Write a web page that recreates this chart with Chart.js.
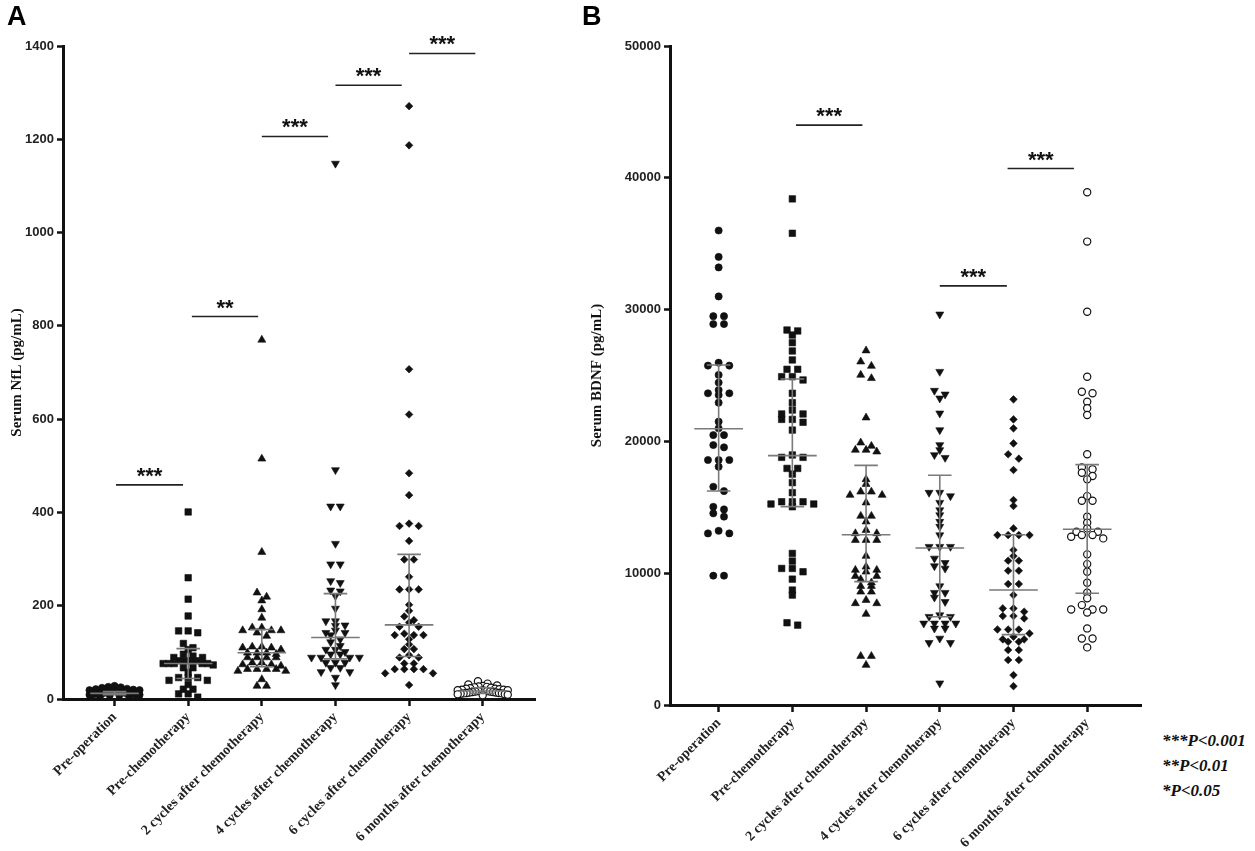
<!DOCTYPE html>
<html>
<head>
<meta charset="utf-8">
<script src="https://cdn.jsdelivr.net/npm/chart.js@4.4.0/dist/chart.umd.min.js"></script>
<style>
    html, body { margin: 0; padding: 0; background: #fff; }
    body { width: 1255px; height: 851px; position: relative; overflow: hidden; }
    .panel { position: absolute; top: 0; height: 851px; }
    #wrapA { left: 0; width: 560px; }
    #wrapB { left: 580px; width: 580px; }
    .letter { position: absolute; top: 1px; font: bold 27px "Liberation Sans", Arial, sans-serif; color: #000; }
    #pnote { position: absolute; left: 1162px; top: 728px; font: italic bold 17px "Liberation Serif", serif; line-height: 25px; color: #111; }
</style>
</head>
<body>
<div class="panel" id="wrapA"><canvas id="nflChart"></canvas></div>
<div class="panel" id="wrapB"><canvas id="bdnfChart"></canvas></div>
<div class="letter" style="left:7px">A</div>
<div class="letter" style="left:582px">B</div>
<div id="pnote">***P&lt;0.001<br>**P&lt;0.01<br>*P&lt;0.05</div>
<script>
const groupLabels = ["Pre-operation", "Pre-chemotherapy", "2 cycles after chemotherapy",
    "4 cycles after chemotherapy", "6 cycles after chemotherapy", "6 months after chemotherapy"];

// Panel A - serum NfL (pg/mL)
const nflPreOperation = [28, 26, 25, 24, 22, 21, 20, 19, 19, 18, 17, 17, 16, 16, 15, 15, 14, 14, 13, 13,
    13, 12, 12, 12, 11, 11, 11, 10, 10, 10, 9, 9, 8, 8, 7, 7, 6, 5];
const nflPreChemo = [401, 260, 214, 178, 146, 146, 142, 119, 110, 106, 96, 92, 89, 89, 82, 82, 82, 82, 76, 76,
    76, 76, 76, 73, 67, 67, 57, 46, 46, 46, 40, 40, 31, 21, 21, 11, 11, 4];
const nfl2Cycles = [770, 515, 315, 228, 219, 211, 192, 174, 153, 153, 147, 147, 147, 142, 135, 112, 112, 110, 110, 106,
    99, 99, 99, 96, 89, 89, 89, 89, 78, 78, 74, 74, 71, 64, 64, 64, 64, 60, 60, 42, 28, 28];
const nfl4Cycles = [1148, 491, 413, 413, 333, 289, 289, 253, 249, 233, 231, 221, 194, 167, 167, 158, 157, 147, 142, 142,
    137, 128, 122, 114, 106, 106, 101, 96, 96, 89, 89, 89, 89, 78, 78, 78, 67, 67, 58, 58, 46, 30];
const nfl6Cycles = [1271, 1187, 707, 610, 484, 437, 376, 371, 371, 339, 299, 299, 262, 235, 235, 235, 202, 189, 177, 169,
    164, 155, 155, 140, 137, 137, 137, 128, 117, 107, 107, 94, 89, 89, 76, 76, 64, 64, 64, 64, 55, 55, 30];
const nfl6Months = [38, 33, 31, 29, 28, 27, 26, 25, 24, 23, 22, 22, 21, 20, 20, 19, 19, 18, 18, 17,
    17, 16, 16, 15, 15, 14, 14, 13, 13, 12, 12, 11, 10, 10, 9, 8];
const nflMedian = [12, 76, 99, 132, 159, 17];
const nflQ1 = [9, 44, 69, 86, 91, 12];
const nflQ3 = [16, 108, 149, 226, 310, 24];
const nflSigFrom = [0.02, 1.05, 2.0, 3.0, 4.0];
const nflSigTo = [0.93, 1.95, 2.9, 3.9, 4.9];
const nflSigY = [459, 820, 1206, 1316, 1384];
const nflSigText = ["***", "**", "***", "***", "***"];

// Panel B - serum BDNF (pg/mL)
const bdnfPreOperation = [36000, 34000, 33200, 31000, 29500, 29500, 28900, 28900, 25970, 25750, 25750, 25040, 24460,
    23900, 23650, 23650, 23520, 22940, 21500, 20990, 20480, 20480, 19720, 19550, 18590, 18590, 18590, 18080, 16560,
    16230, 15040, 14840, 14540, 14290, 13220, 13020, 13020, 9810, 9810];
const bdnfPreChemo = [38400, 35790, 28450, 28380, 28070, 27490, 26860, 26180, 25470, 25470, 24910, 24910, 24660, 23650,
    22940, 22380, 22080, 22080, 21670, 21670, 21450, 20860, 18970, 18790, 18790, 17950, 17950, 17520, 16870, 16110,
    15420, 15420, 15420, 15250, 15250, 15040, 11500, 10920, 10360, 10360, 10110, 9550, 8720, 8340, 6240, 6060];
const bdnf2Cycles = [26890, 26050, 25720, 25040, 24790, 21800, 19900, 19650, 19350, 19350, 19220, 17120, 16760, 16180,
    16180, 15930, 15930, 15350, 14340, 14340, 13910, 13270, 13020, 13020, 12510, 12510, 12510, 11300, 10490, 10240,
    10240, 10110, 9780, 9780, 9530, 9280, 9020, 9020, 8590, 8590, 7960, 7710, 7710, 6900, 3710, 3710, 3030];
const bdnf4Cycles = [29640, 25290, 23850, 23570, 23270, 22130, 20860, 19730, 19350, 18970, 18760, 16110, 16110, 15850,
    15350, 14790, 14410, 13910, 13530, 12890, 12010, 12010, 12010, 11120, 10790, 10540, 10360, 9020, 8520, 8520, 8160,
    7830, 6820, 6700, 6700, 6190, 6190, 6190, 6190, 5810, 5810, 5050, 4720, 4720, 1650];
const bdnf6Cycles = [23190, 21670, 20990, 19850, 19020, 18690, 17830, 15550, 15100, 13400, 12890, 12890, 12890, 12890,
    11760, 11300, 10950, 10950, 10190, 10190, 9180, 9180, 8340, 7330, 7330, 7080, 6750, 6750, 6570, 5730, 5730, 5730,
    5430, 5180, 4980, 4980, 4800, 4800, 4170, 4170, 3410, 3410, 2270, 1430];
const bdnf6Months = [38900, 35160, 29840, 24910, 23770, 23650, 23010, 22510, 22000, 19020, 18030, 17880, 17620, 17370,
    17120, 15850, 15500, 15500, 14290, 13830, 13400, 13150, 13150, 12890, 12890, 12770, 12640, 11430, 10690, 10110,
    9280, 8520, 8090, 7580, 7250, 7250, 7250, 7020, 5810, 5050, 5050, 4370];
const bdnfMedian = [20960, 18920, 12920, 11910, 8730, 13330];
const bdnfQ1 = [16240, 15050, 9360, 6700, 5340, 8480];
const bdnfQ3 = [25800, 24730, 18180, 17430, 12920, 18240];
const bdnfSigFrom = [1.05, 3.0, 3.92];
const bdnfSigTo = [1.95, 3.91, 4.82];
const bdnfSigY = [44000, 31800, 40700];
const bdnfSigText = ["***", "***", "***"];

// marker look per group
const markerStyle = ["circle", "rect", "triangle", "triangle", "rectRot", "circle"];
const markerRotation = [0, 0, 0, 180, 0, 0];
const markerRadius = [3.6, 4.6, 4.6, 4.6, 3.8, 3.6];

// spread points of one group sideways, row by row (layout only, values untouched)
function swarm(values, index, tol, step, maxHalf) {
    const sorted = values.slice().sort((a, b) => b - a);
    const rows = [];
    sorted.forEach(v => {
        const row = rows[rows.length - 1];
        if (row && row[0] - v <= tol) row.push(v);
        else rows.push([v]);
    });
    const points = [];
    rows.forEach(row => {
        const k = row.length;
        let s = step;
        if (k > 1 && (k - 1) * s / 2 > maxHalf) s = 2 * maxHalf / (k - 1);
        // largest in the middle, then alternate left/right
        const slots = [];
        for (let j = 0; j < k; j++) slots.push(j - (k - 1) / 2);
        slots.sort((a, b) => Math.abs(a) - Math.abs(b) || a - b);
        row.forEach((v, j) => points.push({ x: index + slots[j] * s, y: v }));
    });
    return points;
}

function buildDatasets(groups, tol, step, maxHalf) {
    return groups.map((values, i) => ({
        data: swarm(values, i, tol, step, maxHalf),
        pointStyle: markerStyle[i],
        pointRotation: markerRotation[i],
        pointRadius: markerRadius[i],
        pointBackgroundColor: i === 5 ? "#ffffff" : "#111111",
        pointBorderColor: "#111111",
        pointBorderWidth: i === 5 ? 1.2 : 0.6,
        showLine: false
    }));
}

const errorBarPlugin = {
    id: "errorBars",
    afterDatasetsDraw(chart, args, opts) {
        const ctx = chart.ctx;
        const xs = chart.scales.x;
        const ys = chart.scales.y;
        ctx.save();
        ctx.strokeStyle = "#7a7a7a";
        ctx.lineWidth = 1.6;
        opts.median.forEach((m, i) => {
            ctx.beginPath();
            ctx.moveTo(xs.getPixelForValue(i - 0.33), ys.getPixelForValue(m));
            ctx.lineTo(xs.getPixelForValue(i + 0.33), ys.getPixelForValue(m));
            ctx.moveTo(xs.getPixelForValue(i), ys.getPixelForValue(opts.q1[i]));
            ctx.lineTo(xs.getPixelForValue(i), ys.getPixelForValue(opts.q3[i]));
            [opts.q1[i], opts.q3[i]].forEach(q => {
                ctx.moveTo(xs.getPixelForValue(i - 0.16), ys.getPixelForValue(q));
                ctx.lineTo(xs.getPixelForValue(i + 0.16), ys.getPixelForValue(q));
            });
            ctx.stroke();
        });
        ctx.restore();
    }
};

const sigPlugin = {
    id: "sigBars",
    afterDraw(chart, args, opts) {
        const ctx = chart.ctx;
        const xs = chart.scales.x;
        const ys = chart.scales.y;
        ctx.save();
        ctx.strokeStyle = "#222";
        ctx.fillStyle = "#111";
        ctx.lineWidth = 1.6;
        ctx.font = "bold 22px 'Liberation Sans', Arial, sans-serif";
        ctx.textAlign = "center";
        ctx.textBaseline = "alphabetic";
        opts.from.forEach((f, i) => {
            const x1 = xs.getPixelForValue(f);
            const x2 = xs.getPixelForValue(opts.to[i]);
            const y = ys.getPixelForValue(opts.y[i]);
            ctx.beginPath();
            ctx.moveTo(x1, y);
            ctx.lineTo(x2, y);
            ctx.stroke();
            ctx.fillText(opts.text[i], (x1 + x2) / 2, y - 2);
        });
        ctx.restore();
    }
};

function panelOptions(p) {
    return {
        responsive: true,
        maintainAspectRatio: false,
        animation: false,
        layout: { padding: { top: p.top, right: p.right, left: 0, bottom: 0 } },
        plugins: {
            legend: { display: false },
            tooltip: { enabled: false },
            errorBars: { median: p.median, q1: p.q1, q3: p.q3 },
            sigBars: { from: p.sigFrom, to: p.sigTo, y: p.sigY, text: p.sigText }
        },
        scales: {
            x: {
                type: "linear",
                min: p.xMin,
                max: p.xMax,
                afterBuildTicks: scale => { scale.ticks = groupLabels.map((l, i) => ({ value: i })); },
                afterFit: scale => { scale.height = p.xHeight; scale.paddingLeft = 0; scale.paddingRight = 0; },
                border: { display: true, width: 3, color: "#111" },
                grid: { drawOnChartArea: false, drawTicks: true, tickLength: 7, tickWidth: 2.5, color: "#111" },
                ticks: {
                    autoSkip: false,
                    minRotation: 45,
                    maxRotation: 45,
                    padding: 3,
                    color: "#222",
                    font: { family: "'Liberation Serif', 'Times New Roman', serif", size: 14, weight: "bold" },
                    callback: v => groupLabels[v]
                }
            },
            y: {
                min: 0,
                max: p.yMax,
                afterFit: scale => { scale.width = p.yWidth; scale.paddingTop = 0; scale.paddingBottom = 0; },
                border: { display: true, width: 3, color: "#111" },
                grid: { drawOnChartArea: false, drawTicks: true, tickLength: 6, tickWidth: 2.5, color: "#111" },
                title: {
                    display: true,
                    text: p.title,
                    color: "#111",
                    padding: { top: 8, bottom: 0 },
                    font: { family: "'Liberation Serif', 'Times New Roman', serif", size: 15, weight: "bold" }
                },
                ticks: {
                    stepSize: p.yStep,
                    padding: 3,
                    color: "#222",
                    font: { family: "'Liberation Sans', Arial, sans-serif", size: 13, weight: "bold" },
                    callback: v => String(v)
                }
            }
        }
    };
}

let nflCtx = document.getElementById("nflChart").getContext("2d");
let nflChart = new Chart(nflCtx, {
    type: "scatter",
    data: {
        datasets: buildDatasets([nflPreOperation, nflPreChemo, nfl2Cycles, nfl4Cycles, nfl6Cycles, nfl6Months],
            9.5, 0.13, 0.34)
    },
    options: panelOptions({
        top: 46, right: 25, xHeight: 152, yWidth: 63, xMin: -0.70, xMax: 5.71,
        yMax: 1400, yStep: 200, title: "Serum NfL (pg/mL)",
        median: nflMedian, q1: nflQ1, q3: nflQ3,
        sigFrom: nflSigFrom, sigTo: nflSigTo, sigY: nflSigY, sigText: nflSigText
    }),
    plugins: [errorBarPlugin, sigPlugin]
});

let bdnfCtx = document.getElementById("bdnfChart").getContext("2d");
let bdnfChart = new Chart(bdnfCtx, {
    type: "scatter",
    data: {
        datasets: buildDatasets([bdnfPreOperation, bdnfPreChemo, bdnf2Cycles, bdnf4Cycles, bdnf6Cycles, bdnf6Months],
            340, 0.145, 0.34)
    },
    options: panelOptions({
        top: 46, right: 19, xHeight: 146, yWidth: 90, xMin: -0.66, xMax: 5.73,
        yMax: 50000, yStep: 10000, title: "Serum BDNF (pg/mL)",
        median: bdnfMedian, q1: bdnfQ1, q3: bdnfQ3,
        sigFrom: bdnfSigFrom, sigTo: bdnfSigTo, sigY: bdnfSigY, sigText: bdnfSigText
    }),
    plugins: [errorBarPlugin, sigPlugin]
});
</script>
</body>
</html>
